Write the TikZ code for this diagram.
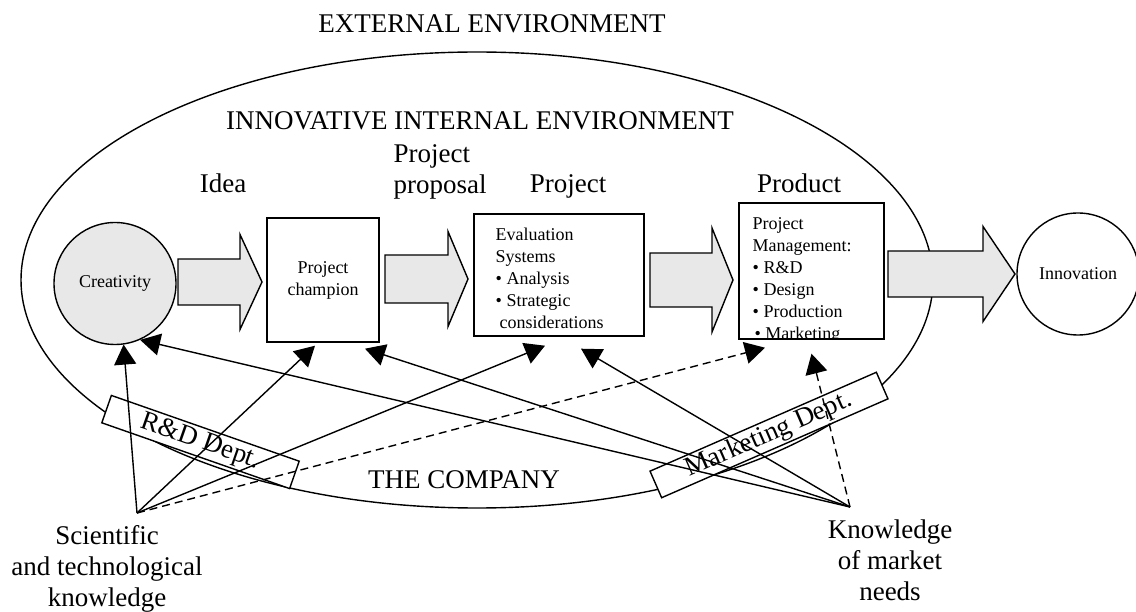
\documentclass[tikz,border=0pt]{standalone}
\usepackage{fontspec}
\setmainfont{Liberation Serif}
\usetikzlibrary{arrows.meta}

\newcommand{\bigsize}{\fontsize{27}{31}\selectfont}
\newcommand{\smallsize}{\fontsize{18}{22}\selectfont}

% wide gray arrow: tail x, head base x, tip x, mid y, shaft half, head half
\newcommand{\fatarrow}[6]{%
  \draw[fat] (#1,{#4-#5}) -- (#2,{#4-#5}) -- (#2,{#4-#6}) -- (#3,#4)
    -- (#2,{#4+#6}) -- (#2,{#4+#5}) -- (#1,{#4+#5}) -- cycle;}

\begin{document}
\begin{tikzpicture}[
    x=1pt, y=-1pt,
    line width=1.4pt,
    font=\bigsize,
    stage/.style={draw, fill=white, inner sep=0pt, font=\smallsize},
    blob/.style={draw, circle, minimum size=122pt, inner sep=0pt, font=\smallsize},
    dept/.style={draw, fill=white, minimum height=29pt, inner sep=0pt},
    fat/.style={draw, fill=black!9, line join=miter},
    link/.style={-{Triangle[length=20pt,width=22pt]}},
    hint/.style={link, dash pattern=on 8pt off 5pt}
  ]
    \useasboundingbox (0,0) rectangle (1136,612);

    % environments
    \node[anchor=base] (external) at (492,33) {EXTERNAL ENVIRONMENT};
    \draw (477,280) ellipse [x radius=456pt, y radius=228pt];
    \node[anchor=base] (internal) at (480,130) {INNOVATIVE INTERNAL ENVIRONMENT};
    \node[anchor=base] (company) at (464,488) {THE COMPANY};

    % stage labels
    \node[anchor=base] (idea) at (223,193) {Idea};
    \node[anchor=north west, align=left, inner sep=0pt] (proposal) at (393,144) {Project\\proposal};
    \node[anchor=base] (projlabel) at (568,193) {Project};
    \node[anchor=base] (prodlabel) at (799,193) {Product};

    % main chain
    \fatarrow{178}{240}{262}{282}{23}{47.5}
    \fatarrow{385}{448}{468}{279}{24}{47.5}
    \fatarrow{650}{712}{733}{280}{27}{52}
    \fatarrow{888}{983}{1015}{274}{23}{47.5}

    \node[blob, fill=black!9] (creativity) at (115,283.5) {Creativity};
    \node[stage, minimum width=112pt, minimum height=124pt, align=center] (champion) at (323,280) {Project\\champion};
    \node[stage, minimum width=170pt, minimum height=122pt] (evaluation) at (559,275) {};
    \node[anchor=north west, align=left, inner sep=0pt, font=\smallsize] (evaltext) at (495,227)
      {Evaluation\\Systems\\• Analysis\\• Strategic\\\hspace*{4pt}considerations};
    \node[stage, minimum width=145pt, minimum height=136pt] (product) at (811.5,271) {};
    \begin{scope}
      \clip (product.south west) rectangle (product.north east);
      \node[anchor=north west, align=left, inner sep=0pt, font=\smallsize] (prodtext) at (752,216.5)
        {Project\\Management:\\• R\&D\\• Design\\• Production\\\hspace*{2pt}• Marketing};
    \end{scope}
    \node[blob] (innovation) at (1078,274) {Innovation};

    % departments
    \node[dept, rotate=-19.3, minimum width=199pt] (rnd) at (200.5,442) {R\&D Dept.};
    \node[dept, rotate=23.6, minimum width=247pt] (marketing) at (769,435) {Marketing Dept.};

    % sources of knowledge
    \node[anchor=north, align=center, inner sep=0pt] (science) at (107,525)
      {Scientific\\and technological\\knowledge};
    \node[anchor=north, align=center, inner sep=0pt] (market) at (890,519)
      {Knowledge\\of market\\needs};
    \coordinate (scitop) at (137,513);
    \coordinate (mkttop) at (850,507);

    \draw[link] (scitop) -- (creativity.-82);
    \draw[link] (scitop) -- ([shift={(-8,3)}]champion.south);
    \draw[link] (scitop) -- ([shift={(-14,9)}]evaluation.south);
    \draw[hint] (scitop) -- ([shift={(-46.5,8)}]product.south);

    \draw[link] (mkttop) -- (creativity.-66);
    \draw[link] (mkttop) -- ([shift={(42,6)}]champion.south);
    \draw[link] (mkttop) -- ([shift={(22,12)}]evaluation.south);
    \draw[hint] (mkttop) -- ([shift={(0,14)}]product.south);
  \end{tikzpicture}
\end{document}
